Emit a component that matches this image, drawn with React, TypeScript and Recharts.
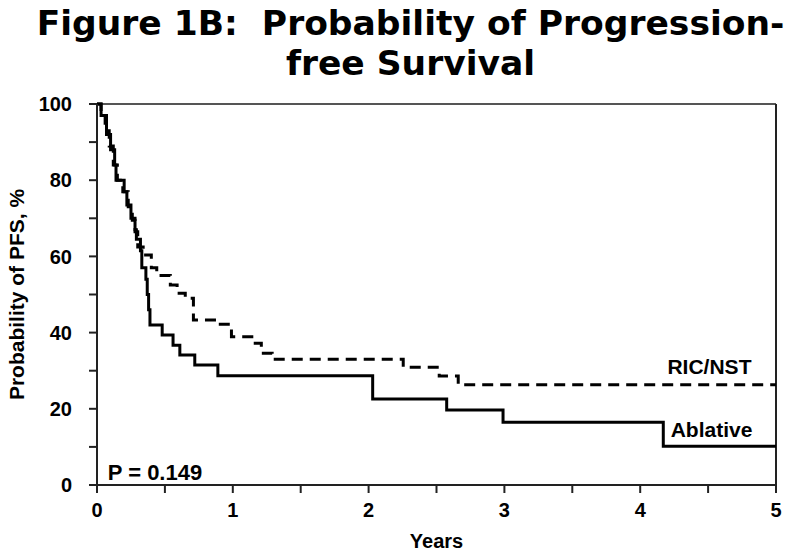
import React from 'react';
import { LineChart, Line, XAxis, YAxis, ReferenceLine, ReferenceDot } from 'recharts';

// Kaplan-Meier step points (years, % progression-free)
const ablativeYears = [0, 0.03, 0.07, 0.1, 0.13, 0.14, 0.2, 0.22, 0.25, 0.28, 0.29, 0.32, 0.33, 0.36, 0.37, 0.38, 0.39, 0.48, 0.56, 0.61, 0.72, 0.89, 2.03, 2.575, 2.99, 4.17, 5];
const ablativePFS = [100, 97, 92, 88, 84, 80, 77, 73.5, 70, 67, 64.5, 61.5, 57, 54, 50, 46, 42, 39.4, 36.7, 34.1, 31.5, 28.7, 22.6, 19.7, 16.5, 10.2, 10.2];

const ricYears = [0, 0.03, 0.06, 0.09, 0.12, 0.15, 0.19, 0.23, 0.26, 0.28, 0.3, 0.34, 0.4, 0.44, 0.54, 0.59, 0.65, 0.71, 0.88, 0.99, 1.14, 1.21, 1.29, 2.255, 2.52, 2.66, 5];
const ricPFS = [100, 97, 93, 89, 84, 80, 77, 73, 69.5, 66.5, 62.5, 60.4, 57, 55, 52.5, 50.3, 49, 43.3, 42.2, 38.9, 37.2, 34.6, 33.0, 30.9, 28.6, 26.3, 26.3];

const yTicks = [0, 10, 20, 30, 40, 50, 60, 70, 80, 90, 100];
const xTicks = [0, 0.5, 1, 1.5, 2, 2.5, 3, 3.5, 4, 4.5, 5];

const titleLines = ['Figure 1B:  Probability of Progression-', 'free Survival'];
const yLabel = 'Probability of PFS, %';
const xLabel = 'Years';
const pLabel = 'P = 0.149';
const ricLabel = 'RIC/NST';
const ablLabel = 'Ablative';

const ablativeData = ablativeYears.map((t, i) => ({ t, s: ablativePFS[i] }));
const ricData = ricYears.map((t, i) => ({ t, s: ricPFS[i] }));

const FONT = '"Liberation Sans", Arial, sans-serif';
const AXIS = '#222';

export default function App() {
  return (
    <div style={{ position: 'absolute', left: 0, top: 0, width: 800, height: 553, background: '#fff' }}>
      <div
        style={{
          position: 'absolute',
          left: 0,
          top: 3,
          width: 821,
          textAlign: 'center',
          fontFamily: '"DejaVu Sans", Verdana, sans-serif',
          fontWeight: 'bold',
          fontSize: 34.5,
          lineHeight: '40px',
          color: '#000',
          whiteSpace: 'pre',
        }}
      >
        {titleLines.map((l, i) => (
          <div key={i}>{l}</div>
        ))}
      </div>
      <LineChart
        width={800}
        height={553}
        margin={{ top: 104, right: 24, bottom: 0, left: 0 }}
        style={{ position: 'absolute', left: 0, top: 0 }}
      >
        <XAxis
          dataKey="t"
          type="number"
          domain={[0, 5]}
          ticks={xTicks}
          tickFormatter={(v: number) => (Number.isInteger(v) ? String(v) : '')}
          allowDuplicatedCategory={false}
          height={68}
          tickSize={8}
          tickMargin={10}
          stroke={AXIS}
          strokeWidth={2}
          tick={{ fill: '#000', fontFamily: FONT, fontWeight: 'bold', fontSize: 20 }}
          label={{ value: xLabel, position: 'insideBottom', offset: 5, fill: '#000', fontFamily: FONT, fontWeight: 'bold', fontSize: 20 }}
        />
        <YAxis
          dataKey="s"
          type="number"
          domain={[0, 100]}
          ticks={yTicks}
          tickFormatter={(v: number) => (v % 20 === 0 ? String(v) : '')}
          width={97}
          tickSize={8}
          tickMargin={17}
          stroke={AXIS}
          strokeWidth={2}
          tick={{ fill: '#000', fontFamily: FONT, fontWeight: 'bold', fontSize: 20 }}
          label={{ value: yLabel, angle: -90, position: 'center', dx: -32, fill: '#000', fontFamily: FONT, fontWeight: 'bold', fontSize: 21 }}
        />
        <ReferenceLine y={100} stroke="#555" strokeWidth={2} />
        <ReferenceLine x={5} stroke={AXIS} strokeWidth={2} />
        <Line
          data={ricData}
          dataKey="s"
          type="stepAfter"
          stroke="#000"
          strokeWidth={3}
          strokeDasharray="11 7"
          dot={false}
          isAnimationActive={false}
        />
        <Line
          data={ablativeData}
          dataKey="s"
          type="stepAfter"
          stroke="#000"
          strokeWidth={3}
          dot={false}
          isAnimationActive={false}
        />
        <ReferenceDot x={4.51} y={31.2} r={0} stroke="none" fill="none"
          label={{ value: ricLabel, position: 'center', fill: '#000', fontFamily: FONT, fontWeight: 'bold', fontSize: 21 }} />
        <ReferenceDot x={4.525} y={14.6} r={0} stroke="none" fill="none"
          label={{ value: ablLabel, position: 'center', fill: '#000', fontFamily: FONT, fontWeight: 'bold', fontSize: 21 }} />
        <ReferenceDot x={0.427} y={3.3} r={0} stroke="none" fill="none"
          label={{ value: pLabel, position: 'center', fill: '#000', fontFamily: FONT, fontWeight: 'bold', fontSize: 22 }} />
      </LineChart>
    </div>
  );
}
